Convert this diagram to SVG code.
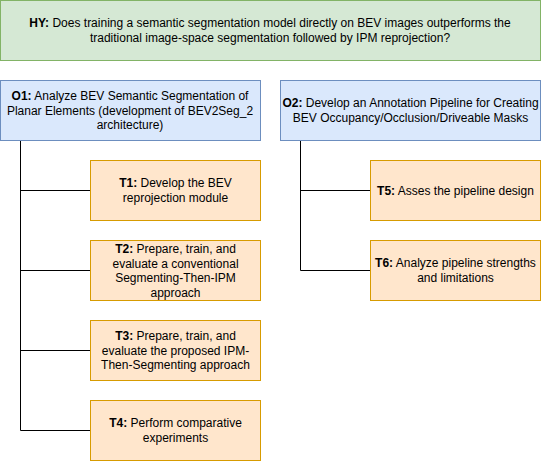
<svg xmlns="http://www.w3.org/2000/svg" width="541" height="461" viewBox="0 0 541 461">
<style>
text{font-family:"Liberation Sans",Arial,sans-serif;font-size:12px;fill:#000;text-anchor:middle;dominant-baseline:central}
tspan.b{font-weight:bold}
.hy{fill:#d5e8d4;stroke:#82b366;stroke-width:1}
.obj{fill:#dae8fc;stroke:#6c8ebf;stroke-width:1}
.task{fill:#ffe6cc;stroke:#d79b00;stroke-width:1}
.conn{fill:none;stroke:#000;stroke-width:1}
</style>
<rect width="541" height="461" fill="#fff"/>
<g id="connectors">
<path class="conn" d="M20.5 140V430.5H90M20.5 190.5H90M20.5 270.5H90M20.5 350.5H90"/>
<path class="conn" d="M300.5 140V270.5H370M300.5 190.5H370"/>
</g>
<g id="HY">
<rect class="hy" x="0.5" y="0.5" width="540" height="60"/>
<text x="270" y="23"><tspan class="b">HY:</tspan> Does training a semantic segmentation model directly on BEV images outperforms the</text>
<text x="270" y="37.5">traditional image-space segmentation followed by IPM reprojection?</text>
</g>
<g id="O1">
<rect class="obj" x="0.5" y="80.5" width="260" height="60"/>
<text x="130" y="96"><tspan class="b">O1:</tspan> Analyze BEV Semantic Segmentation of</text>
<text x="130" y="110.5">Planar Elements (development of BEV2Seg_2</text>
<text x="130" y="125">architecture)</text>
</g>
<g id="T1">
<rect class="task" x="90.5" y="160.5" width="170" height="60"/>
<text x="175.5" y="183"><tspan class="b">T1:</tspan> Develop the BEV</text>
<text x="175.5" y="197.5">reprojection module</text>
</g>
<g id="T2">
<rect class="task" x="90.5" y="240.5" width="170" height="60"/>
<text x="175.5" y="249"><tspan class="b">T2:</tspan> Prepare, train, and</text>
<text x="175.5" y="263.5">evaluate a conventional</text>
<text x="175.5" y="278">Segmenting-Then-IPM</text>
<text x="175.5" y="292.5">approach</text>
</g>
<g id="T3">
<rect class="task" x="90.5" y="320.5" width="170" height="60"/>
<text x="175.5" y="336"><tspan class="b">T3:</tspan> Prepare, train, and</text>
<text x="175.5" y="350.5">evaluate the proposed IPM-</text>
<text x="175.5" y="365">Then-Segmenting approach</text>
</g>
<g id="T4">
<rect class="task" x="90.5" y="400.5" width="170" height="60"/>
<text x="175.5" y="423"><tspan class="b">T4:</tspan> Perform comparative</text>
<text x="175.5" y="437.5">experiments</text>
</g>
<g id="O2">
<rect class="obj" x="280.5" y="80.5" width="260" height="60"/>
<text x="410.5" y="103"><tspan class="b">O2:</tspan> Develop an Annotation Pipeline for Creating</text>
<text x="410.5" y="117.5">BEV Occupancy/Occlusion/Driveable Masks</text>
</g>
<g id="T5">
<rect class="task" x="370.5" y="160.5" width="170" height="60"/>
<text x="455.5" y="190.5"><tspan class="b">T5:</tspan> Asses the pipeline design</text>
</g>
<g id="T6">
<rect class="task" x="370.5" y="240.5" width="170" height="60"/>
<text x="455.5" y="263"><tspan class="b">T6:</tspan> Analyze pipeline strengths</text>
<text x="455.5" y="277.5">and limitations</text>
</g>
</svg>
